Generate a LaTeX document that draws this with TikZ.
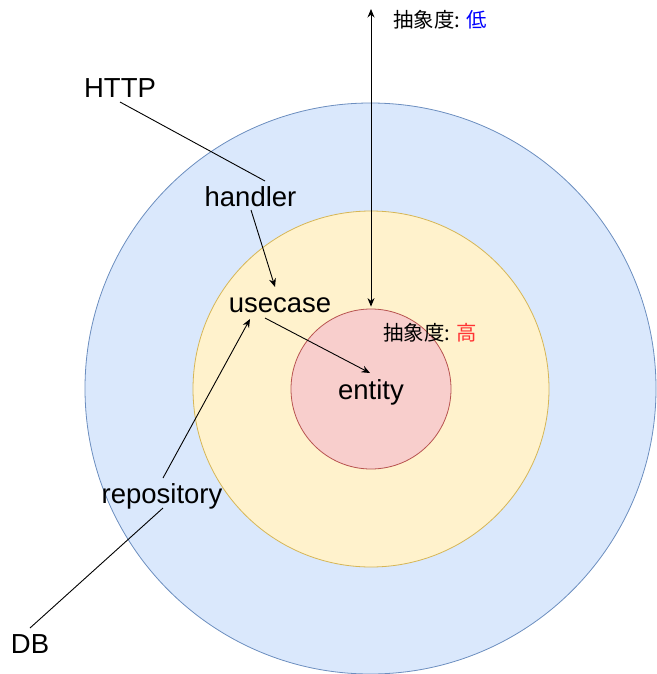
\documentclass[tikz,border=0pt]{standalone}
\usepackage{fontspec}
\setmainfont{Liberation Sans}
\newfontfamily\cjk{Noto Sans CJK JP}
\usetikzlibrary{arrows.meta}
\definecolor{bluefill}{HTML}{DAE8FC}
\definecolor{blueline}{HTML}{6C8EBF}
\definecolor{yelfill}{HTML}{FFF2CC}
\definecolor{yelline}{HTML}{D6B656}
\definecolor{redfill}{HTML}{F8CECC}
\definecolor{redline}{HTML}{B85450}
\definecolor{lowblue}{HTML}{0000FF}
\definecolor{highred}{HTML}{FF3333}
\begin{document}
\begin{tikzpicture}[x=1pt,y=-1pt,
  ring/.style={circle, inner sep=0pt, line width=0.8pt},
  lbl/.style={inner sep=0pt, anchor=base, font=\fontsize{27.5}{31}\selectfont},
  note/.style={inner sep=0pt, anchor=base west, font=\cjk\fontsize{20.4}{24}\selectfont},
  conn/.style={line width=0.9pt},
  arr/.style={conn, -{Stealth[length=8.5pt,width=7pt]}},
  darr/.style={conn, {Stealth[length=8.5pt,width=7pt]}-{Stealth[length=8.5pt,width=7pt]}}]
\useasboundingbox (0,0) rectangle (656,674);
% rings
\node[ring, draw=blueline, fill=bluefill, minimum size=571pt] (outer) at (370.5,388.5) {};
\node[ring, draw=yelline, fill=yelfill, minimum size=356pt] (middle) at (371,389) {};
\node[ring, draw=redline, fill=redfill, minimum size=160pt] (inner) at (371,389) {};
% labels
\node[lbl] (http) at (120,98) {HTTP};
\node[lbl] (handler) at (250.5,206) {handler};
\node[lbl] (usecase) at (280,312) {usecase};
\node[lbl] (entity) at (371,399) {entity};
\node[lbl] (repo) at (162,503) {repository};
\node[lbl] (db) at (30,653) {DB};
\node[note] (low) at (393,28) {抽象度: {\color{lowblue}低}};
\node[note] (high) at (383,340) {抽象度: {\color{highred}高}};
% connectors
\coordinate (top) at (371,9);
\draw[darr] ([yshift=2pt]inner.north) -- (top);
\draw[conn] ([yshift=-4pt]http.base) -- ([xshift=14.5pt,yshift=25pt]handler.base);
\draw[arr] ([xshift=0.5pt,yshift=-4pt]handler.base) -- ([xshift=-5pt,yshift=25pt]usecase.base);
\draw[arr] ([xshift=-15pt,yshift=-6pt]usecase.base) -- ([xshift=-1pt,yshift=26pt]entity.base);
\draw[arr] ([xshift=1pt,yshift=25pt]repo.base) -- ([xshift=-30pt,yshift=-7pt]usecase.base);
\draw[conn] ([xshift=1pt,yshift=-5pt]repo.base) -- ([yshift=25pt]db.base);
\end{tikzpicture}
\end{document}
